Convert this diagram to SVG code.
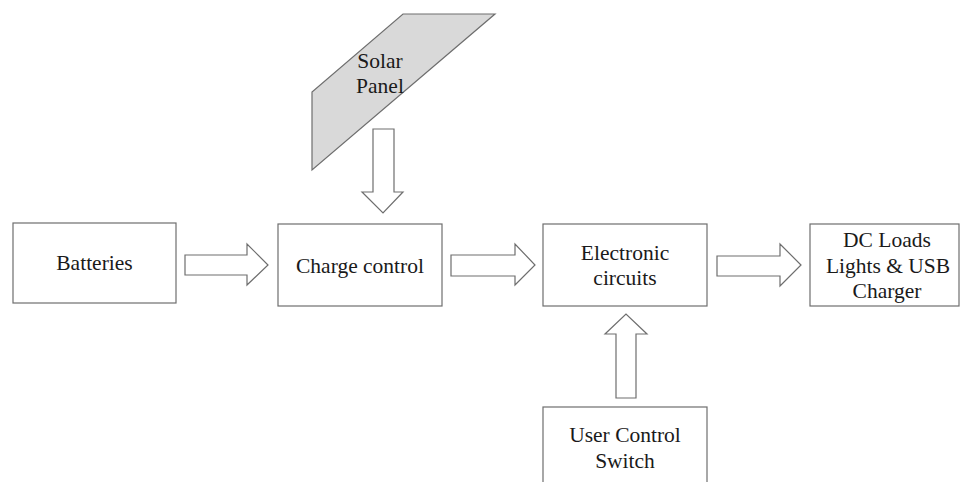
<svg xmlns="http://www.w3.org/2000/svg" width="961" height="482" viewBox="0 0 961 482">
<style>
.box{fill:#ffffff;stroke:#6e6e6e;stroke-width:1.2}
.arr{fill:#ffffff;stroke:#6e6e6e;stroke-width:1.2;stroke-linejoin:miter}
text{font-family:'Liberation Serif','DejaVu Serif',serif;font-size:21.5px;fill:#1a1a1a;text-anchor:middle}
</style>
<rect width="961" height="482" fill="#ffffff"/>
<g id="solar-panel">
<polygon points="403,14 495,14 312,170 312,92" fill="#d9d9d9" stroke="#6e6e6e" stroke-width="1.2"/>
<text x="380" y="68" font-family="Liberation Serif, serif" font-size="21.5">Solar</text>
<text x="380" y="93" font-family="Liberation Serif, serif" font-size="21.5">Panel</text>
</g>
<g id="batteries">
<rect class="box" x="13" y="223" width="163" height="80"/>
<text x="94.5" y="270" font-family="Liberation Serif, serif" font-size="21.5">Batteries</text>
</g>
<g id="charge-control">
<rect class="box" x="278" y="224" width="164" height="82"/>
<text x="360" y="273" font-family="Liberation Serif, serif" font-size="21.5">Charge control</text>
</g>
<g id="electronic-circuits">
<rect class="box" x="543" y="224" width="164" height="82"/>
<text x="625" y="260" font-family="Liberation Serif, serif" font-size="21.5">Electronic</text>
<text x="625" y="285" font-family="Liberation Serif, serif" font-size="21.5">circuits</text>
</g>
<g id="dc-loads">
<rect class="box" x="810" y="224" width="149" height="82"/>
<text x="887" y="247" font-family="Liberation Serif, serif" font-size="21.5">DC Loads</text>
<text x="888" y="273" font-family="Liberation Serif, serif" font-size="21.5">Lights &amp; USB</text>
<text x="887" y="298" font-family="Liberation Serif, serif" font-size="21.5">Charger</text>
</g>
<g id="user-control-switch">
<rect class="box" x="543" y="407" width="164" height="90"/>
<text x="625" y="442" font-family="Liberation Serif, serif" font-size="21.5">User Control</text>
<text x="625" y="468" font-family="Liberation Serif, serif" font-size="21.5">Switch</text>
</g>
<g id="connectors">
<polygon class="arr" points="373,129 394,129 394,192 403,192 383,213 362,192 373,192"/>
<polygon class="arr" points="185,255 247,255 247,244 268,265 247,285 247,275 185,275"/>
<polygon class="arr" points="451,255 515,255 515,244 535,265 515,285 515,276 451,276"/>
<polygon class="arr" points="717,256 780,256 780,244 801,265 780,286 780,276 717,276"/>
<polygon class="arr" points="616,398 636,398 636,334 647,334 626,314 605,334 616,334"/>
</g>
</svg>
